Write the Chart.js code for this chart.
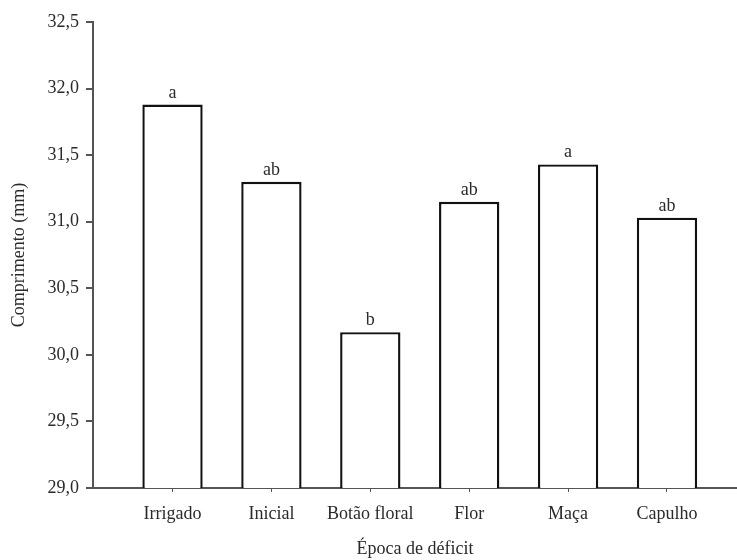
<!DOCTYPE html>
<html>
<head>
<meta charset="utf-8">
<script src="https://cdn.jsdelivr.net/npm/chart.js@4.4.1/dist/chart.umd.min.js"></script>
<style>
  html, body { margin: 0; padding: 0; background: #fff; }
  #wrap { width: 737px; height: 560px; position: relative; }
</style>
</head>
<body>
<div id="wrap"><canvas id="chart"></canvas></div>
<script>
// Comprimento médio por época de déficit hídrico
const categories = ['Irrigado', 'Inicial', 'Botão floral', 'Flor', 'Maça', 'Capulho'];
const comprimento = [31.88, 31.30, 30.17, 31.15, 31.43, 31.03];
const letras = ['a', 'ab', 'b', 'ab', 'a', 'ab'];
const yTicks = [29.0, 29.5, 30.0, 30.5, 31.0, 31.5, 32.0, 32.5];

const serif = 'Liberation Serif';
const fontSize = 18;
const textColor = '#2a2a2a';
const axisColor = '#555555';

// Letters of the mean comparison test above each bar
const letterPlugin = {
  id: 'letras',
  afterDatasetsDraw(chart) {
    const ctx = chart.ctx;
    const meta = chart.getDatasetMeta(0);
    ctx.save();
    ctx.font = fontSize + 'px "' + serif + '"';
    ctx.fillStyle = textColor;
    ctx.textAlign = 'center';
    ctx.textBaseline = 'alphabetic';
    meta.data.forEach((bar, i) => {
      ctx.fillText(letras[i], bar.x, bar.y - 7);
    });
    ctx.restore();
  }
};

new Chart(document.getElementById('chart'), {
  type: 'bar',
  data: {
    datasets: [{
      data: categories.map((c, i) => ({ x: i, y: comprimento[i] })),
      backgroundColor: '#ffffff',
      borderColor: '#111111',
      borderWidth: 2.4,
      borderSkipped: 'bottom',
      barPercentage: 0.61,
      categoryPercentage: 1.0
    }]
  },
  options: {
    responsive: true,
    maintainAspectRatio: false,
    animation: false,
    layout: { padding: { top: 22, right: 0, bottom: 0, left: 0 } },
    plugins: {
      legend: { display: false },
      tooltip: { enabled: false }
    },
    scales: {
      x: {
        type: 'linear',
        offset: false,
        min: -0.804,
        max: 5.708,
        afterBuildTicks(scale) {
          scale.ticks = categories.map((c, i) => ({ value: i }));
        },
        afterFit(scale) { scale.height = 72; },
        ticks: {
          autoSkip: false,
          maxRotation: 0,
          padding: 11,
          color: textColor,
          font: { family: serif, size: fontSize },
          callback: (v) => categories[v]
        },
        grid: {
          offset: false,
          drawOnChartArea: false,
          drawTicks: true,
          tickLength: 4,
          color: axisColor,
          lineWidth: 1
        },
        border: { display: true, color: axisColor, width: 2 },
        title: {
          display: true,
          text: 'Época de déficit',
          color: textColor,
          font: { family: serif, size: fontSize },
          padding: { top: 0, bottom: 0 }
        }
      },
      y: {
        min: 29,
        max: 32.5,
        afterBuildTicks(scale) {
          scale.ticks = yTicks.map(v => ({ value: v }));
        },
        afterFit(scale) { scale.width = 93; },
        ticks: {
          padding: 7,
          color: textColor,
          font: { family: serif, size: fontSize },
          callback: (v) => v.toFixed(1).replace('.', ',')
        },
        grid: {
          drawOnChartArea: false,
          drawTicks: true,
          tickLength: 7,
          color: axisColor,
          lineWidth: 2
        },
        border: { display: true, color: axisColor, width: 2 },
        title: {
          display: true,
          text: 'Comprimento (mm)',
          color: textColor,
          font: { family: serif, size: fontSize },
          padding: { top: 8, bottom: 0 }
        }
      }
    }
  },
  plugins: [letterPlugin]
});
</script>
</body>
</html>
